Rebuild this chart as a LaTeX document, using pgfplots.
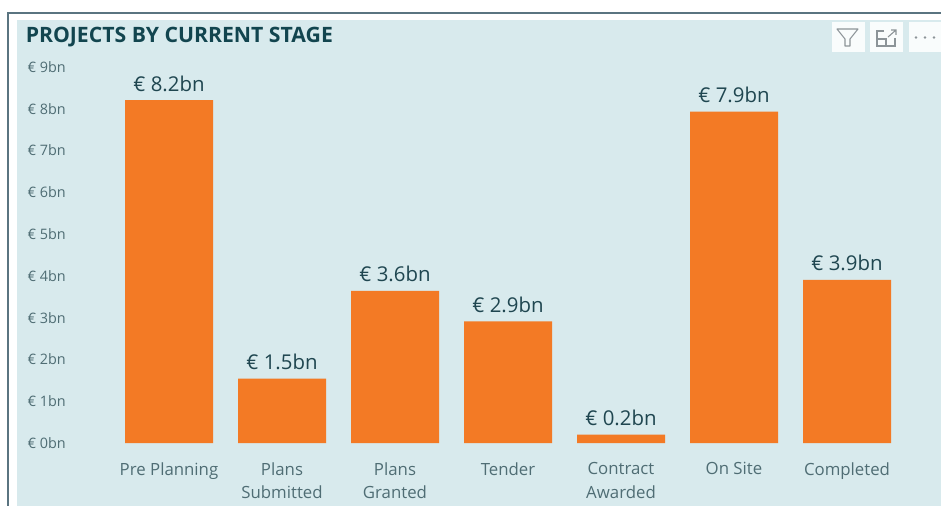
\documentclass[border=0pt]{standalone}
\usepackage{pgfplots}
\pgfplotsset{compat=1.18}
\usepackage{fontspec}
\setmainfont{Open Sans}
\definecolor{cardbg}{HTML}{D8EAED}
\definecolor{frame}{HTML}{5A7480}
\definecolor{barc}{HTML}{F37A25}
\definecolor{titlec}{HTML}{12454F}
\definecolor{valc}{HTML}{1F4650}
\definecolor{tickc}{HTML}{4F6D74}
\definecolor{iconc}{HTML}{8C9498}
\pgfplotstableread{
idx value
0 8.2
1 1.54
2 3.64
3 2.91
4 0.2
5 7.93
6 3.9
}\stagedata
\begin{document}
\begin{tikzpicture}[x=0.75pt,y=-0.75pt]
\useasboundingbox (0,0) rectangle (941,506);
\begin{scope}
\clip (0,0) rectangle (941,506);
\fill[white] (0,0) rectangle (941,506);
\draw[frame,line width=1.5pt] (8,507) -- (8,13) -- (942,13);
\fill[cardbg] (17,20) rectangle (941,506);
\end{scope}
\node[anchor=base west,inner sep=0pt,text=titlec,font=\fontsize{15.9pt}{18pt}\selectfont\bfseries] at (25.5,43) {PROJECTS BY CURRENT STAGE};
% toolbar
\fill[white!85!cardbg] (832,22) rectangle (865,52);
\fill[white!85!cardbg] (870,22) rectangle (903,52);
\fill[white!85!cardbg] (909,22) rectangle (941,52);
\draw[iconc,line width=0.8pt,line join=round] (837,29) -- (858,29) -- (850,39) -- (850,46) -- (845,46) -- (845,39) -- cycle;
\draw[iconc,line width=0.8pt] (884,31) -- (877,31) -- (877,46) -- (895,46) -- (895,38);
\draw[iconc,line width=0.8pt] (877,39) -- (886,39) -- (886,46);
\draw[iconc,line width=0.8pt] (888,37) -- (896,30) (891,30) -- (896,30) -- (896,35);
\fill[iconc] (916,37.5) circle (1.4) (925,37.5) circle (1.4) (934,37.5) circle (1.4);
\begin{axis}[
  at={(84.375pt,-332.25pt)},anchor=south west,
  scale only axis,
  width=593.25pt,height=282.15pt,
  xmin=-0.5,xmax=6.5,ymin=0,ymax=9,
  axis line style={draw=none},
  major tick length=0pt,
  /pgf/number format/assume math mode=true,
  ytick={0,1,2,3,4,5,6,7,8,9},
  xtick={0,1,2,3,4,5,6},
  xticklabels={Pre Planning,{Plans\\[3pt]Submitted},{Plans\\[3pt]Granted},Tender,{Contract\\[3pt]Awarded},On Site,Completed},
  yticklabel={€ \pgfmathprintnumber{\tick}bn},
  yticklabel style={font=\fontsize{10.8pt}{12pt}\selectfont,text=tickc,anchor=east,inner sep=0pt,xshift=-34.8pt},
  xticklabel style={font=\fontsize{12.6pt}{14.5pt}\selectfont,text=tickc,align=center,anchor=north,inner sep=0pt,yshift=-14.5pt},
  ybar,
  bar width=66pt,
  bar shift=0pt,
  nodes near coords={€ \pgfmathprintnumber[fixed,fixed zerofill,precision=1]{\pgfplotspointmeta}bn},
  nodes near coords style={font=\fontsize{15.3pt}{18pt}\selectfont,text=valc,anchor=south,inner sep=0pt,yshift=6.5pt},
  clip=false,
]
\addplot[fill=barc,draw=none,point meta=explicit] table[x=idx,y=value,meta=value] {\stagedata};
\end{axis}
\end{tikzpicture}
\end{document}
